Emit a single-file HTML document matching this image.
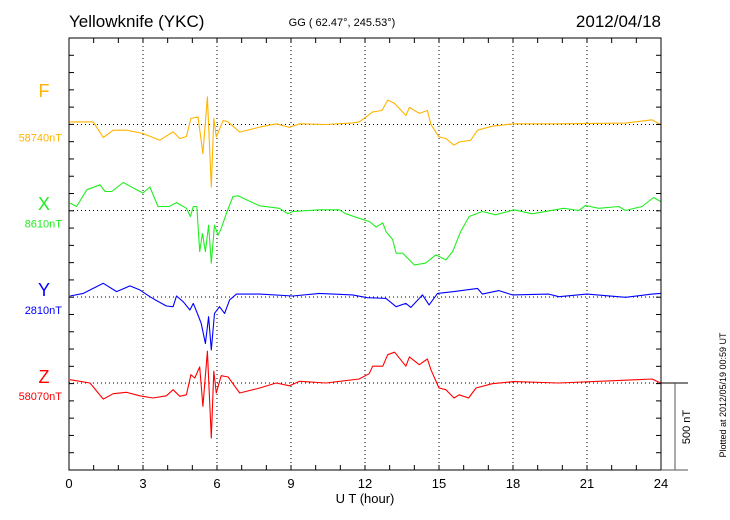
<!DOCTYPE html>
<html><head><meta charset="utf-8"><style>
html,body{margin:0;padding:0;background:#fff;}
svg{display:block;font-family:"Liberation Sans",sans-serif;}
</style></head><body>
<svg id="chart" width="730" height="520" viewBox="0 0 730 520" xmlns="http://www.w3.org/2000/svg">
<text x="69" y="27" font-size="17" fill="#000">Yellowknife (YKC)</text>
<text x="342" y="26" font-size="11" text-anchor="middle" fill="#000">GG ( 62.47°, 245.53°)</text>
<text x="661" y="27" font-size="17" text-anchor="end" fill="#000">2012/04/18</text>
<g id="grid"></g>
<g id="series"></g>
<rect x="69" y="38" width="592" height="432" fill="none" stroke="#000" stroke-width="1"/>
<g id="ticks"></g>
<text x="365" y="503" font-size="13" text-anchor="middle" fill="#000">U T (hour)</text>
<line x1="661" y1="383" x2="688" y2="383" stroke="#000"/>
<line x1="661" y1="470" x2="688" y2="470" stroke="#555"/>
<line x1="675" y1="383" x2="675" y2="470" stroke="#555"/>
<text font-size="11" fill="#000" transform="translate(690,427) rotate(-90)" text-anchor="middle">500 nT</text>
<text font-size="9" fill="#000" transform="translate(726,395) rotate(-90)" text-anchor="middle">Plotted at 2012/05/19 00:59 UT</text>
</svg>
<script>
const xTickLabels = ["0","3","6","9","12","15","18","21","24"];
const seriesNames = ["F","X","Y","Z"];
const seriesBaselineLabels = ["58740nT","8610nT","2810nT","58070nT"];
const fTimes = [0.04,0.98,1.39,1.79,2.33,3.0,3.68,4.22,4.49,4.76,4.94,5.23,5.43,5.61,5.77,5.87,5.97,6.25,6.45,6.92,7.73,8.4,8.94,9.35,10.42,11.49,11.77,12.31,12.69,12.92,13.2,13.66,13.8,14.2,14.53,14.67,15.0,15.28,15.61,15.82,16.29,16.56,17.16,18.04,19.86,22.56,23.64,23.98];
const fValues = [15,15,-75,-33,-33,-52,-91,-43,-81,-70,35,44,-168,160,-362,35,-72,23,15,-44,-15,4,-17,4,0,9,15,73,81,141,122,52,99,64,81,0,-72,-81,-120,-101,-91,-33,-10,4,4,8,27,0];
const xTimes = [0.04,0.31,0.72,1.26,1.46,1.73,2.2,2.74,3.0,3.28,3.61,4.06,4.36,4.76,4.92,5.04,5.18,5.3,5.41,5.53,5.66,5.77,5.9,6.04,6.17,6.38,6.65,6.85,7.19,7.73,8.53,8.87,9.07,10.15,10.96,11.23,11.77,12.18,12.45,12.72,12.85,13.12,13.26,13.53,14.0,14.45,14.87,15.28,15.55,15.88,16.22,16.76,17.3,18.04,18.78,20.06,20.67,20.94,21.48,22.29,22.56,23.23,23.7,23.98];
const xValues = [43,23,120,149,110,110,162,120,101,136,23,23,46,13,-35,23,23,-238,-133,-238,-85,-305,-85,-143,-104,-16,81,85,62,27,13,-19,-6,4,4,-19,-45,-64,-96,-72,-122,-168,-247,-247,-315,-305,-257,-286,-238,-122,-35,-6,-25,4,-19,13,0,29,13,23,0,23,75,52];
const yTimes = [0.04,0.58,1.39,1.93,2.47,2.87,3.28,3.55,3.95,4.22,4.36,4.63,4.9,5.04,5.23,5.36,5.53,5.66,5.77,5.9,6.1,6.31,6.51,6.79,7.73,9.07,10.15,11.49,12.1,12.85,13.26,13.66,13.86,14.33,14.6,14.94,15.61,16.56,16.76,17.43,17.97,19.45,19.86,21.0,22.56,23.64,23.98];
const yValues = [6,21,79,31,64,41,2,-21,-52,-56,6,-27,-75,-37,-104,-153,-269,-114,-307,-95,-56,-95,-17,17,17,6,21,12,-4,-8,-56,-37,-60,12,-46,21,31,50,17,37,12,17,2,17,-2,17,21];
const zTimes = [0.04,0.85,1.39,1.79,2.33,2.87,3.41,3.95,4.22,4.49,4.76,4.94,5.1,5.3,5.43,5.61,5.77,5.87,5.97,6.17,6.45,6.92,7.73,8.4,8.94,9.35,10.42,11.76,12.17,12.31,12.72,12.92,13.2,13.66,13.8,14.2,14.53,14.67,15.0,15.28,15.61,15.82,16.2,16.5,17.16,18.04,19.86,22.56,23.64,23.98];
const zValues = [19,0,-93,-62,-54,-74,-87,-74,-39,-77,-68,48,29,93,-135,184,-319,68,-58,42,35,-58,-29,0,-16,10,0,23,54,97,97,164,178,97,151,106,139,77,-29,-39,-87,-68,-87,-29,-4,8,0,16,23,0];

const NS="http://www.w3.org/2000/svg";
const X0=69,X1=661,YT=38,YB=470;
const pxPerNT=17.28/100;
function xScale(h){return X0+(h/24)*(X1-X0);}
function yScale(v,base){return base - v*pxPerNT;}
function mk(tag,attrs,parent){const e=document.createElementNS(NS,tag);for(const k in attrs)e.setAttribute(k,attrs[k]);parent.appendChild(e);return e;}
const svg=document.getElementById('chart');
const grid=document.getElementById('grid'), ticks=document.getElementById('ticks'), sg=document.getElementById('series');
const baselines=[124.5,210.5,297,383];
const letterY=[97,210,296,383];
const colors=["#ffb400","#22ee22","#0000ff","#ff0000"];
for(let i=1;i<8;i++){
  const l=mk('line',{x1:xScale(i*3),x2:xScale(i*3),y1:YT,y2:YB,stroke:"#000","stroke-width":1,"stroke-dasharray":"1,3"},grid);
  
  
}
for(let h=0;h<=24;h++){
  const x=xScale(h);
  const t1=mk('line',{x1:x,x2:x,y1:YT,y2:YT+5,stroke:"#000"},ticks);
  
  
  const t2=mk('line',{x1:x,x2:x,y1:YB,y2:YB-5,stroke:"#000"},ticks);
  
  
}
xTickLabels.forEach((lab,i)=>{
  const t=mk('text',{x:xScale(i*3),y:488,"font-size":13,"text-anchor":"middle",fill:"#000"},ticks);
  t.textContent=lab;
  
  
});
for(let k=1;k<25;k++){
  const y=YT+k*17.28;
  const a=mk('line',{x1:X0,x2:X0+5,y1:y,y2:y,stroke:"#000"},ticks);
  
  
  const b=mk('line',{x1:X1,x2:X1-5,y1:y,y2:y,stroke:"#000"},ticks);
  
  
}
const allT=[fTimes,xTimes,yTimes,zTimes], allV=[fValues,xValues,yValues,zValues];
seriesNames.forEach((nm,i)=>{
  const base=baselines[i];
  const bl=mk('line',{x1:X0,x2:X1,y1:base,y2:base,stroke:"#000","stroke-dasharray":"1,3"},grid);
  
  
  const d=allT[i].map((t,j)=>(j?'L':'M')+xScale(t).toFixed(1)+' '+yScale(allV[i][j],base).toFixed(1)).join(' ');
  const p=mk('path',{d:d,fill:"none",stroke:colors[i],"stroke-width":1.1,"stroke-linejoin":"round"},sg);
  
  
  const n=mk('text',{x:44,y:letterY[i],"font-size":18,"text-anchor":"middle",fill:colors[i]},svg);
  n.textContent=nm;
  
  
  const v=mk('text',{x:62,y:base+17,"font-size":11,"text-anchor":"end",fill:colors[i]},svg);
  v.textContent=seriesBaselineLabels[i];
  
  
});
</script>
</body></html>
